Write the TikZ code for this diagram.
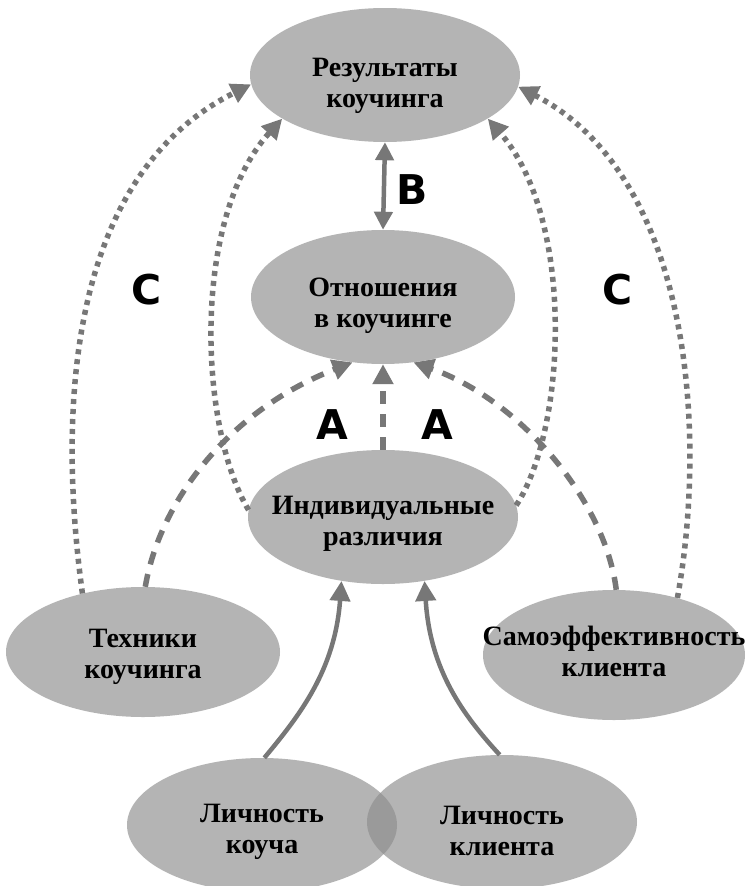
\documentclass[tikz,border=0pt]{standalone}
\usepackage{fontspec}
\setmainfont{Liberation Serif}
\newfontfamily\labfont{DejaVu Sans}
\usetikzlibrary{shapes.geometric,arrows.meta}
\definecolor{blobgray}{HTML}{B4B4B4}
\definecolor{lensgray}{HTML}{9A9A9A}
\definecolor{arrgray}{HTML}{777777}
\tikzset{
  blob/.style={ellipse,fill=blobgray,draw=none,inner sep=0pt},
  txt/.style={align=center,font=\bfseries\fontsize{28}{31}\selectfont,inner sep=0pt},
  lab/.style={font=\labfont\bfseries\fontsize{41}{43}\selectfont,inner sep=0pt},
  tip/.style={-{Triangle[length=20pt,width=20pt]}},
  dotline/.style={arrgray,line width=5.5pt,dash pattern=on 5pt off 5pt,tip},
  dashline/.style={arrgray,line width=5.5pt,dash pattern=on 13pt off 10pt,tip},
  solidline/.style={arrgray,line width=4.5pt,tip},
}
\begin{document}
\begin{tikzpicture}[x=1pt,y=-1pt]
\useasboundingbox[fill=white] (0,0) rectangle (745,886);
% ellipses
\node[blob,minimum width=270pt,minimum height=134pt] (res) at (385,75) {};
\node[blob,minimum width=264pt,minimum height=134pt] (rel) at (383,297) {};
\node[blob,minimum width=270pt,minimum height=134pt] (ind) at (383,517) {};
\node[blob,minimum width=274pt,minimum height=130pt] (tech) at (143,652) {};
\node[blob,minimum width=262pt,minimum height=130pt] (self) at (614,655) {};
\node[blob,minimum width=270pt,minimum height=134pt] (lc) at (262,825) {};
\node[blob,minimum width=270pt,minimum height=134pt] (lk) at (502,822) {};
\begin{scope}
  \clip (lc.center) ellipse [x radius=135pt,y radius=67pt];
  \fill[lensgray] (lk.center) ellipse [x radius=135pt,y radius=67pt];
\end{scope}
% texts
\node[txt] (res-t) at ([yshift=-11pt]res) {Результаты\\коучинга};
\node[txt] (rel-t) at ([yshift=-9pt]rel) {Отношения\\в коучинге};
\node[txt] (ind-t) at ([yshift=-7pt]ind) {Индивидуальные\\различия};
\node[txt] (tech-t) at ([yshift=-5pt]tech) {Техники\\коучинга};
\node[txt] (self-t) at ([yshift=4pt]self) {Самоэффективность\\клиента};
\node[txt] (lc-t) at ([yshift=-7pt]lc) {Личность\\коуча};
\node[txt] (lk-t) at ([yshift=-9pt]lk) {Личность\\клиента};
% B
\draw[arrgray,line width=4.5pt,{Triangle[length=18pt,width=18pt]}-{Triangle[length=18pt,width=18pt]}] (res.south) -- (rel.north);
% C dotted
\draw[dotline] (tech.136) .. controls (60,430) and (60,180) .. (res.184);
\draw[dotline] (ind.177) .. controls (200,430) and (190,220) .. (res.203);
\draw[dotline] (ind.5) .. controls (566,430) and (576,220) .. (res.337);
\draw[dotline] (self.42) .. controls (708,430) and (690,175) .. (res.355);
% A dashed
\draw[dashline] (tech.88) .. controls (160,500) and (230,410) .. (rel.245);
\draw[dashline] (ind.north) -- (rel.south);
\draw[dashline] (self.88) .. controls (605,500) and (520,400) .. (rel.295);
% solid
\draw[solidline] (lc.88) .. controls (300,715) and (335,670) .. (ind.237);
\draw[solidline] (lk.92) .. controls (463,715) and (430,670) .. (ind.303);
% labels
\node[lab] (lB) at (412,190) {B};
\node[lab] (lC1) at (147,290) {C};
\node[lab] (lC2) at (618,290) {C};
\node[lab] (lA1) at (332,425) {A};
\node[lab] (lA2) at (437,425) {A};
\end{tikzpicture}
\end{document}
